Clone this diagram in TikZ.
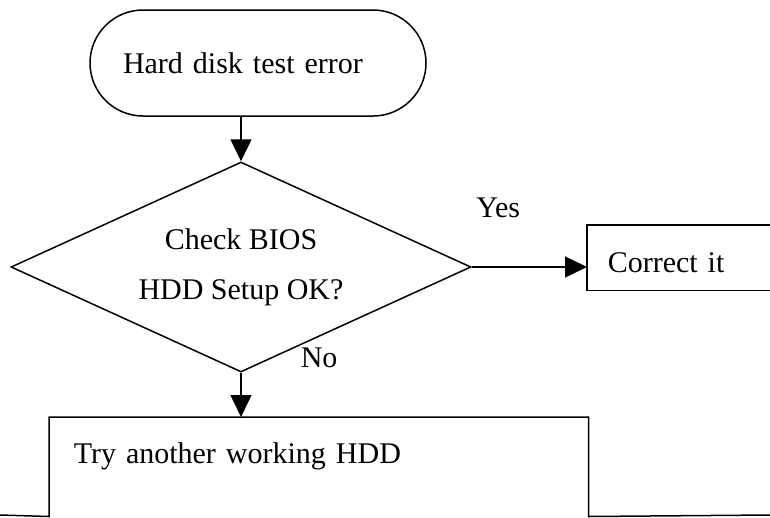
\documentclass[tikz,border=0pt]{standalone}
\usepackage{fontspec}
\setmainfont{Liberation Serif}
\usetikzlibrary{shapes.geometric,arrows.meta}
\begin{document}
\begin{tikzpicture}[x=1pt,y=-1pt,line width=1.5pt,
    every node/.style={font=\fontsize{30}{50}\selectfont},
    >={Triangle[length=22pt,width=21pt]},
    terminal/.style={draw,rounded corners=53pt,minimum width=336pt,minimum height=106pt,
        text width=270pt,inner xsep=33pt,align=left},
    decision/.style={draw,diamond,aspect=2.2,minimum width=460pt,minimum height=210pt,
        inner sep=0pt,align=center},
    process/.style={anchor=north west,align=left},
    tag/.style={inner sep=0pt}]
    \clip (0,0) rectangle (770,517);
    \node[terminal] (start) at (258,63) {Hard disk test error};
    \node[decision] (check) at (241,267) {Check BIOS\\HDD Setup OK?};
    \node[process,text width=220pt,inner xsep=20pt,inner ysep=10pt,text height=37pt,text depth=7pt]
        (fix) at (587,225) {Correct it};
    \node[process,text width=490pt,inner xsep=24pt,inner ysep=24pt,text height=22pt,text depth=28pt]
        (tryhdd) at (49,417) {Try another working HDD};
    \draw (fix.north east) -- (fix.north west) -- (fix.south west) -- (fix.south east);
    \draw (0,515) -- (tryhdd.south west) -- (tryhdd.north west) -- (tryhdd.north east)
        -- (tryhdd.south east) -- (770,515);
    \draw[->] (check.north |- start.south) -- (check.north);
    \draw[->] (check.east) -- (check.east -| fix.west)
        node[tag,pos=0.23,above=48pt] (yes) {Yes};
    \draw[->] (check.south) -- (check.south |- tryhdd.north)
        node[tag,pos=0,anchor=south west,xshift=59pt,yshift=4pt] (no) {No};
\end{tikzpicture}
\end{document}
